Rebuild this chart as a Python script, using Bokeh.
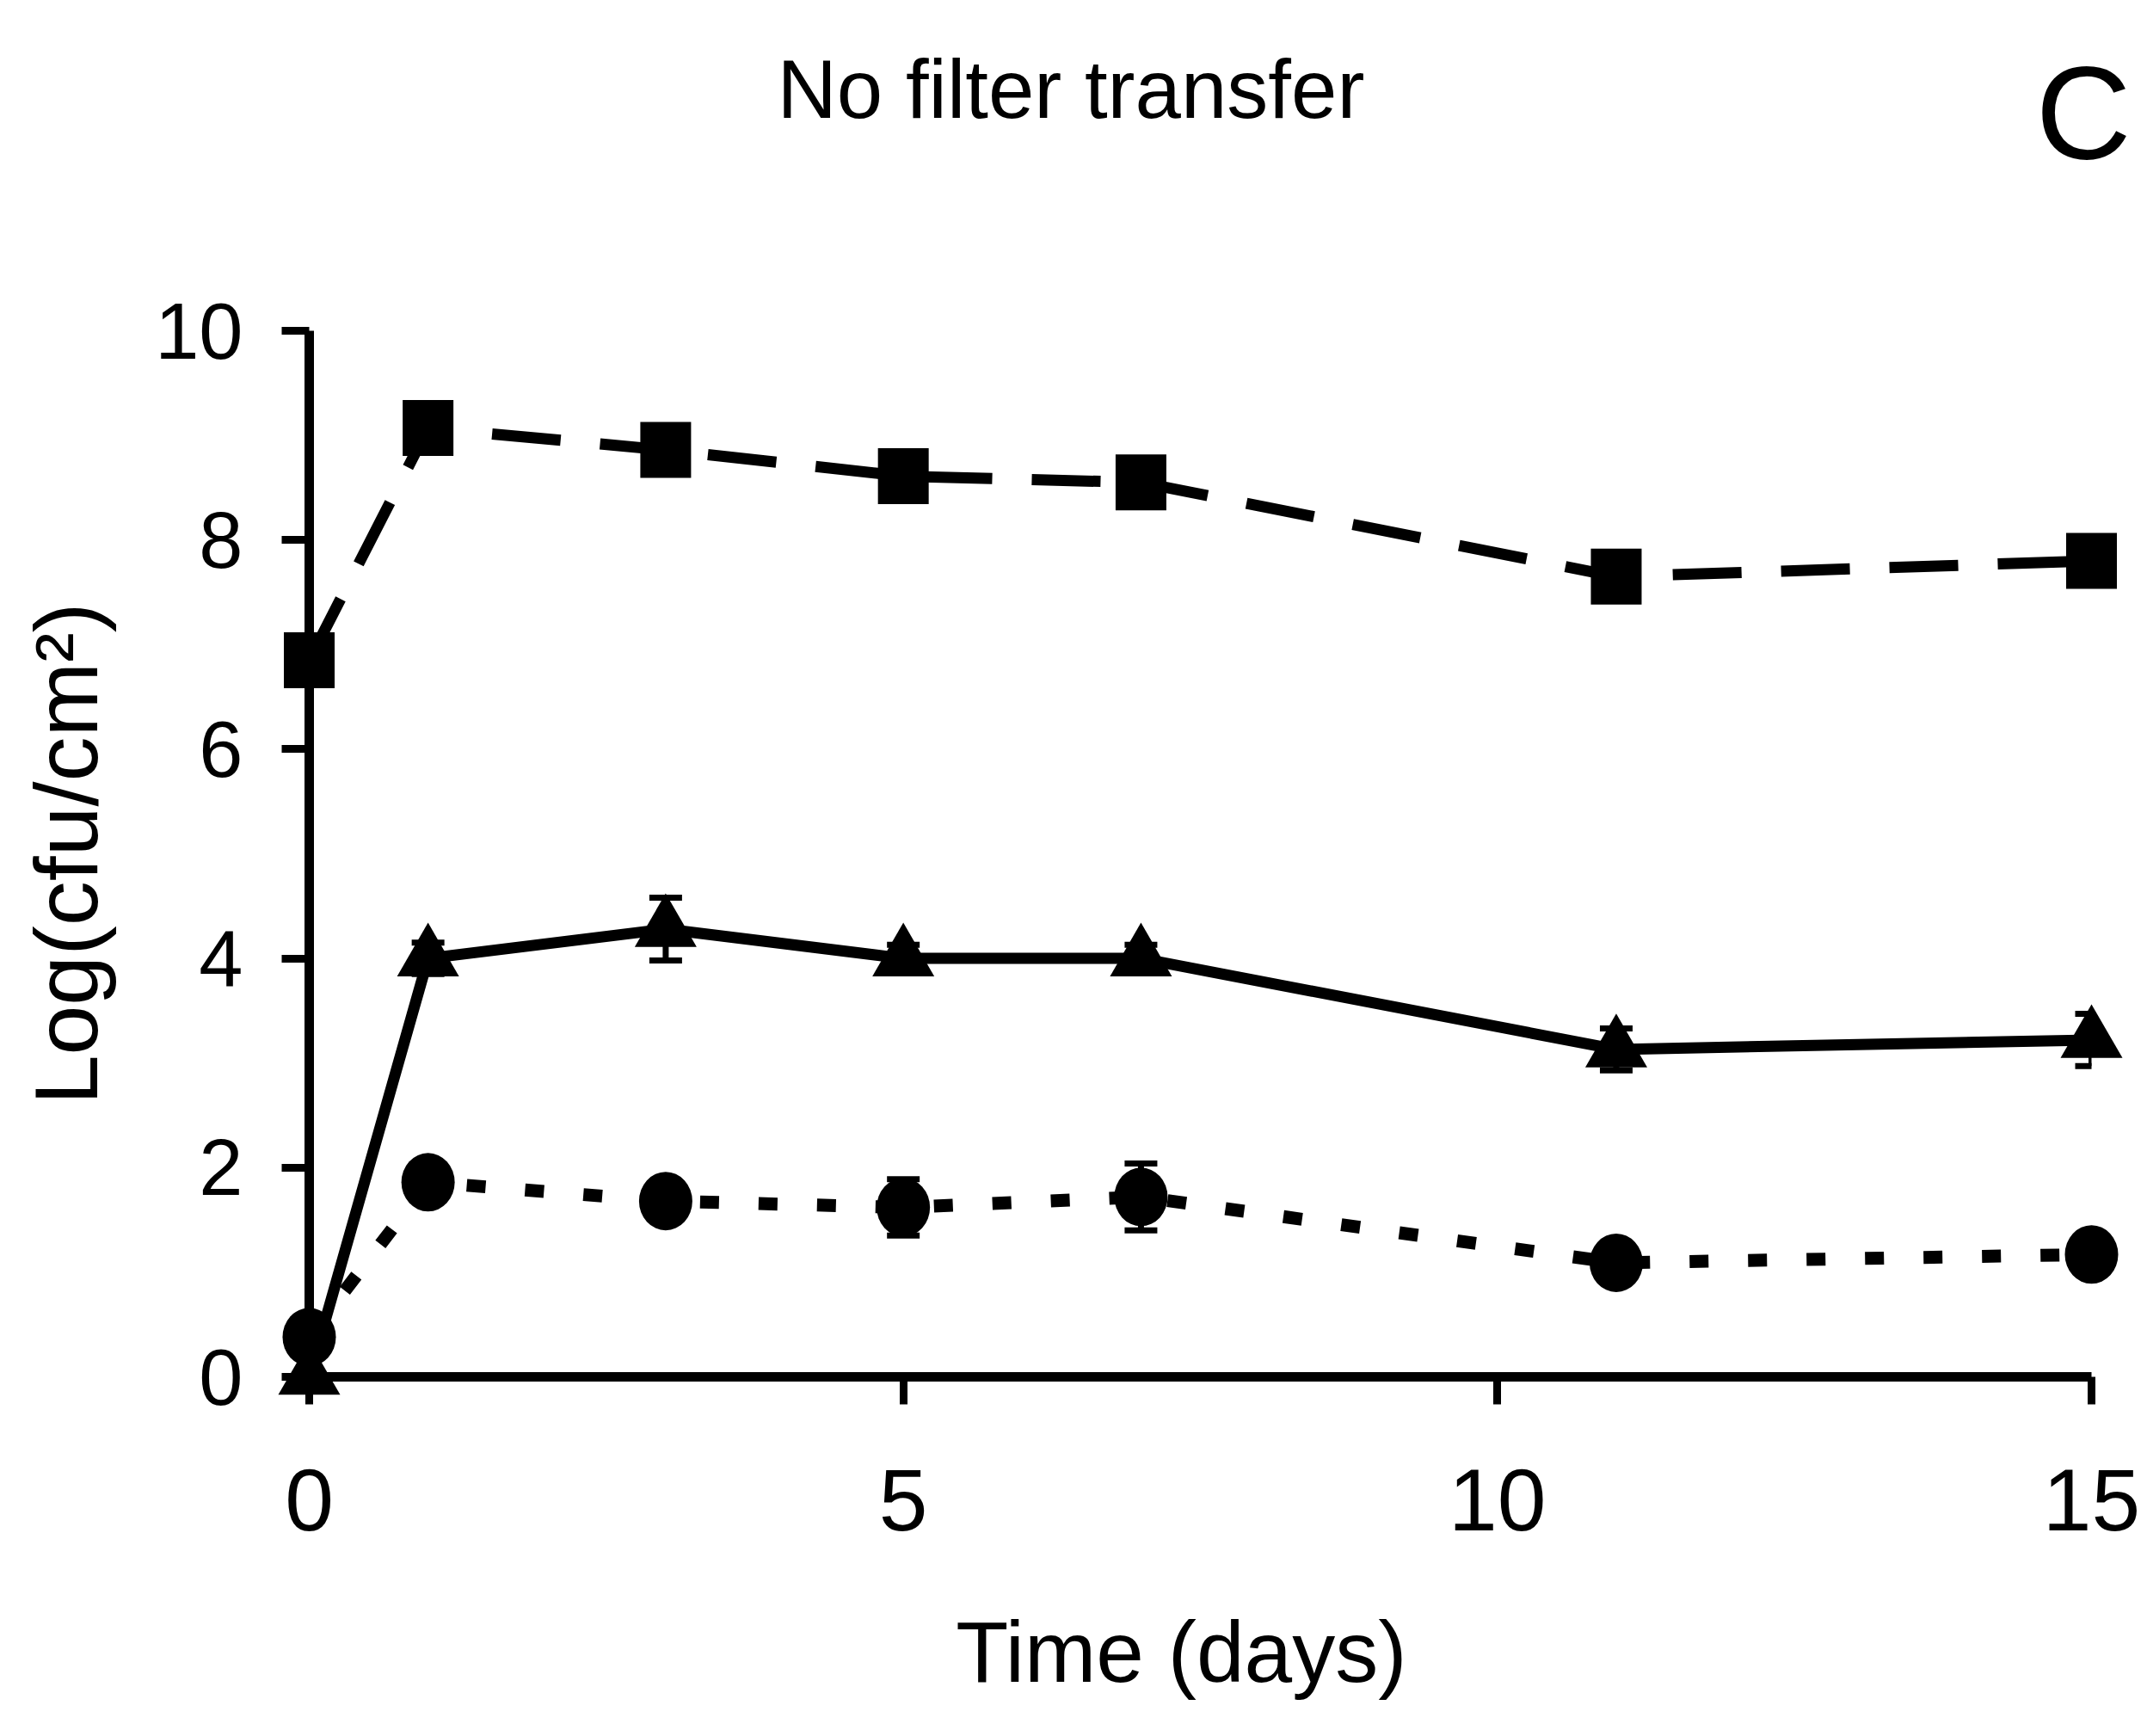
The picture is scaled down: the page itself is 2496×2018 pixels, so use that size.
from bokeh.plotting import figure
from bokeh.models import Range1d, Whisker, ColumnDataSource, FixedTicker, TeeHead
from bokeh.core.properties import value
from bokeh.embed import file_html
from bokeh.resources import INLINE

# ---- data ----
days = [0, 1, 3, 5, 7, 11, 15]

square_vals = [6.85, 9.07, 8.86, 8.61, 8.55, 7.65, 7.80]
square_err = [0.10, 0.10, 0.10, 0.10, 0.10, 0.10, 0.10]

triangle_vals = [0.00, 4.00, 4.28, 4.00, 4.00, 3.13, 3.22]
triangle_err = [0.00, 0.15, 0.30, 0.13, 0.13, 0.20, 0.25]

circle_vals = [0.38, 1.86, 1.68, 1.62, 1.72, 1.09, 1.17]
circle_err = [0.05, 0.10, 0.10, 0.27, 0.32, 0.10, 0.10]

x_ticks = [0, 5, 10, 15]
y_ticks = [0, 2, 4, 6, 8, 10]

title_text = "No filter transfer"
panel_letter = "C"
x_label = "Time (days)"
y_label = "Log(cfu/cm\u00b2)"

REG = "Liberation Sans"

p = figure(width=2496, height=2018, output_backend="svg", toolbar_location=None,
           x_range=Range1d(0, 15), y_range=Range1d(0, 10),
           min_border_left=359, min_border_right=65, min_border_top=384, min_border_bottom=418)
p.background_fill_color = "white"
p.border_fill_color = "white"
p.outline_line_color = None
p.xgrid.visible = False
p.ygrid.visible = False

for ax in (p.xaxis[0], p.yaxis[0]):
    ax.axis_line_width = 11
    ax.axis_line_color = "black"
    ax.major_tick_line_width = 9
    ax.major_tick_line_color = "black"
    ax.major_tick_in = 0
    ax.major_tick_out = 32
    ax.minor_tick_line_color = None
    ax.major_label_text_color = "black"
    ax.axis_label_text_color = "black"
    ax.axis_label_text_font_style = "normal"

p.xaxis.ticker = FixedTicker(ticks=x_ticks)
p.yaxis.ticker = FixedTicker(ticks=y_ticks)
p.xaxis.bounds = (0, 15)
p.yaxis.bounds = (0, 10)

p.xaxis.major_label_text_font = REG
p.xaxis.major_label_text_font_size = "102px"
p.xaxis.major_label_standoff = 75

p.yaxis.major_label_text_font = REG
p.yaxis.major_label_text_font_size = "92px"
p.yaxis.major_label_standoff = 45
p.yaxis.axis_label = y_label
p.yaxis.axis_label_text_font = REG
p.yaxis.axis_label_text_font_size = "104px"
p.yaxis.axis_label_standoff = 42

sq = ColumnDataSource(dict(x=days, y=square_vals,
                           lo=[v - e for v, e in zip(square_vals, square_err)],
                           hi=[v + e for v, e in zip(square_vals, square_err)]))
tr = ColumnDataSource(dict(x=days, y=triangle_vals,
                           lo=[v - e for v, e in zip(triangle_vals, triangle_err)],
                           hi=[v + e for v, e in zip(triangle_vals, triangle_err)]))
ci = ColumnDataSource(dict(x=days, y=circle_vals,
                           lo=[v - e for v, e in zip(circle_vals, circle_err)],
                           hi=[v + e for v, e in zip(circle_vals, circle_err)]))

# connecting lines
l1 = p.line("x", "y", source=sq, line_color="black", line_width=13, line_dash="80 46")
l2 = p.line("x", "y", source=tr, line_color="black", line_width=13)
l3 = p.line("x", "y", source=ci, line_color="black", line_width=15, line_dash="22 46")

# error bars
for src in (sq, tr, ci):
    w = Whisker(base="x", upper="hi", lower="lo", source=src,
                line_color="black", line_width=7,
                upper_head=TeeHead(size=38, line_width=7, line_color="black"),
                lower_head=TeeHead(size=38, line_width=7, line_color="black"))
    p.add_layout(w)

# markers
m1 = p.rect("x", "y", source=sq, width=59, height=65, width_units="screen", height_units="screen",
            fill_color="black", line_color=None)
m2 = p.scatter("x", "y", source=tr, marker="triangle", size=72, fill_color="black", line_color=None)
m3 = p.ellipse("x", "y", source=ci, width=62, height=68, width_units="screen", height_units="screen",
               fill_color="black", line_color=None)

# texts outside the data frame (drawn as unclipped text glyphs)
t1 = p.text(x=[6.41], y=[12.31], text=[title_text], text_align="center", text_baseline="alphabetic",
            text_font=value(REG), text_font_size="96px", text_color="black")
t2 = p.text(x=[14.53], y=[12.08], text=[panel_letter], text_align="left", text_baseline="alphabetic",
            text_font=value(REG), text_font_size="154px", text_color="black")
t3 = p.text(x=[7.34], y=[-2.63], text=[x_label], text_align="center", text_baseline="alphabetic",
            text_font=value(REG), text_font_size="100px", text_color="black")

for r in (l1, l2, l3, m1, m2, m3, t1, t2, t3):
    r.level = "overlay"

open("out.html", "w").write(file_html(p, INLINE))
